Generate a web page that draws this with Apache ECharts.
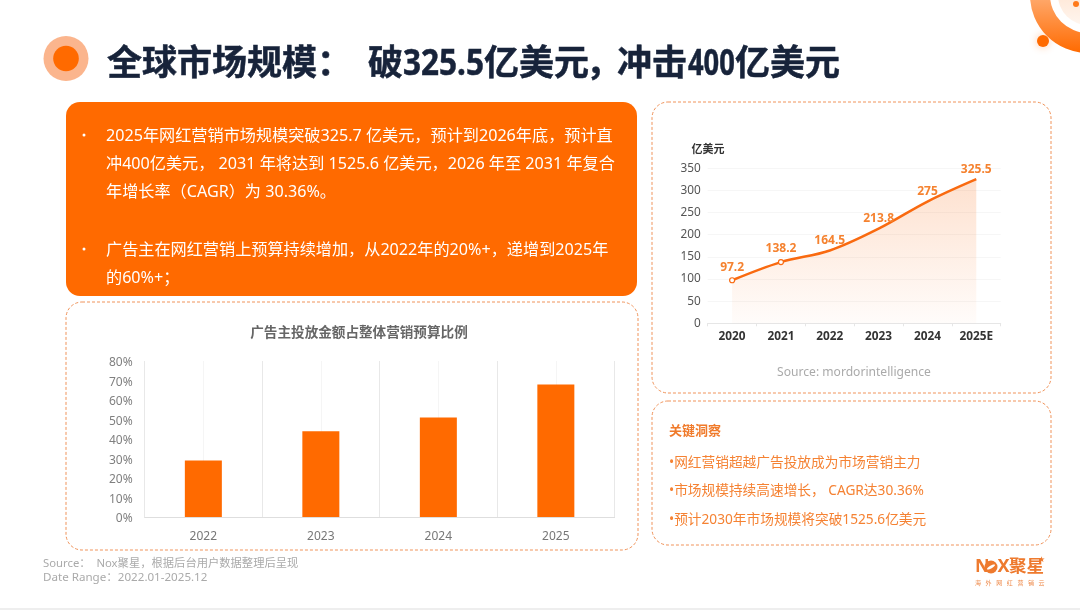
<!DOCTYPE html>
<html><head><meta charset="utf-8">
<style>html,body{margin:0;padding:0;background:#fff}#c{width:1080px;height:610px}</style>
<script src="https://cdn.jsdelivr.net/npm/echarts@6/dist/echarts.min.js"></script>
</head><body><div id="c"></div>
<script>
const FONT = '"Noto Sans","Noto Sans CJK SC",sans-serif';
const ORANGE = '#ff6a00';
const budgetYears = ['2022','2023','2024','2025'];
const budgetShare = [29,44,51,68];
const marketYears = ['2020','2021','2022','2023','2024','2025E'];
const marketValues = [97.2,138.2,164.5,213.8,275,325.5];
const markedPoints = ['2020','2021'];
const titleLeft = '全球市场规模：';
const titleRight = [['破',368,1],['325.5',403,.9],['亿美元',484,1],['，',586,1],['冲击',617,1],['400',688,.78],['亿美元',735,1]];
const bullets = [
 ['2025年网红营销市场规模突破325.7 亿美元，预计到2026年底，预计直',135],
 ['冲400亿美元， 2031 年将达到 1525.6 亿美元，2026 年至 2031 年复合',163],
 ['年增长率（CAGR）为 30.36%。',191],
 ['广告主在网红营销上预算持续增加，从2022年的20%+，递增到2025年',249],
 ['的60%+；',277]
];
const insights = ['•网红营销超越广告投放成为市场营销主力','•市场规模持续高速增长， CAGR达30.36%','•预计2030年市场规模将突破1525.6亿美元'];
const logoTagline = ['海','外','网','红','营','销','云'];

const txt = (x,y,text,size,fill,extra={},sx=1) => ({type:'text',x,y:y+1,scaleX:sx,style:Object.assign({text,fontSize:size,fill,fontFamily:FONT,textVerticalAlign:'middle',textAlign:'left'},extra)});
const card = (x,y,width,height) => ({type:'rect',shape:{x,y,width,height,r:16},style:{fill:'none',stroke:'#f0935a',lineWidth:1,lineDash:[3,2]}});
const heavy = {fontWeight:'bold',stroke:'#17233a',lineWidth:.5};

const graphics = [
 {type:'ring',shape:{cx:1088,cy:-5,r:58,r0:38},style:{fill:new echarts.graphic.LinearGradient(0,0,0,1,[{offset:0,color:'#ffe0c8'},{offset:.45,color:'#ffb27c'},{offset:1,color:'#ff6a00'}])}},
 {type:'circle',shape:{cx:1088,cy:-5,r:30},style:{fill:new echarts.graphic.LinearGradient(0,0,0,1,[{offset:0,color:'#ffd9bf'},{offset:1,color:'#fff6ef'}])}},
 {type:'circle',shape:{cx:1076,cy:4,r:3},style:{fill:'#ff7a1a'}},
 {type:'circle',shape:{cx:1043,cy:41,r:6},style:{fill:'#ff6a00',shadowBlur:8,shadowColor:'rgba(255,130,50,.45)'}},
 {type:'circle',shape:{cx:66,cy:58.5,r:22.5},style:{fill:'#fbb58d'}},
 {type:'circle',shape:{cx:66,cy:58.5,r:12.8},style:{fill:ORANGE}},
 txt(107,64,titleLeft,35,'#17233a',heavy),
 ...titleRight.map(([t,x,s]) => txt(x,64,t,35,'#17233a',heavy,s)),
 {type:'rect',shape:{x:66,y:102,width:571,height:194,r:14},style:{fill:ORANGE}},
 {type:'circle',shape:{cx:84,cy:135,r:1.5},style:{fill:'#fff'}},
 {type:'circle',shape:{cx:84,cy:249,r:1.5},style:{fill:'#fff'}},
 ...bullets.map(([t,y]) => txt(106,y,t,16.15,'#fff')),
 card(66,302,572,248),
 card(652,102,399,291),
 card(652,401,399,144),
 txt(359,332,'广告主投放金额占整体营销预算比例',13.6,'#666',{fontWeight:'bold',textAlign:'center'}),
 txt(708,149,'亿美元',11,'#333',{fontWeight:'bold',textAlign:'center'}),
 txt(854,372,'Source: mordorintelligence',12.1,'#aaa',{textAlign:'center'}),
 txt(669,430,'关键洞察',13,'#f07a2a',{fontWeight:'bold'}),
 ...insights.map((t,i) => txt(669,[462,490,519][i],t,13.7,'#f58233')),
 txt(43,563,'Source：  Nox聚星，根据后台用户数据整理后呈现',11.3,'#aaa'),
 txt(43,577,'Date Range：2022.01-2025.12',11.6,'#aaa'),
 txt(975,566,'N',18,'#ee7a2e',{fontWeight:'bold'}),
 {type:'circle',shape:{cx:991,cy:567,r:6.5},style:{fill:'#ee7a2e'}},
 {type:'ellipse',shape:{cx:991,cy:567,rx:4.5,ry:1.4},rotation:.5,originX:991,originY:567,style:{fill:'#fff'}},
 txt(997.5,566,'X',18,'#ee7a2e',{fontWeight:'bold'}),
 txt(1009,566,'聚星',17.5,'#ee7a2e',{fontWeight:'bold'}),
 txt(1038,559,'★',8,'#ee7a2e',{fontFamily:'"DejaVu Sans"'}),
 ...logoTagline.map((c,i) => txt(975+i*10.6,582.5,c,6,'#ee8a4a')),
 {type:'rect',shape:{x:0,y:608,width:1080,height:2},style:{fill:'#eeeeee'}}
];

const chart = echarts.init(document.getElementById('c'),null,{renderer:'canvas'});
chart.setOption({
 animation:false,
 backgroundColor:'#fff',
 textStyle:{fontFamily:FONT},
 graphic:{elements:graphics},
 grid:[
  {left:144.6,top:361,width:470,height:156,containLabel:false},
  {left:707.7,top:168.3,width:293,height:155,containLabel:false}
 ],
 xAxis:[
  {type:'category',gridIndex:0,data:budgetYears,
   axisLine:{lineStyle:{color:'#dedede'}},axisTick:{show:false},
   splitLine:{show:true,lineStyle:{color:'#e8e8e8'}},
   axisLabel:{color:'#777',fontSize:12,margin:13.5,fontFamily:FONT}},
  {type:'category',gridIndex:1,data:marketYears,
   axisLine:{lineStyle:{color:'#e6e6e6'}},axisTick:{show:true,length:3,lineStyle:{color:'#e6e6e6'}},
   splitLine:{show:false},
   axisLabel:{color:'#333',fontSize:11.8,fontWeight:'bold',margin:7,fontFamily:FONT}}
 ],
 yAxis:[
  {type:'value',gridIndex:0,min:0,max:80,interval:10,
   axisLine:{show:false},axisTick:{show:false},splitLine:{show:false},
   axisLabel:{color:'#808080',fontSize:12,margin:12,formatter:'{a|{value}%}',
    rich:{a:{color:'#808080',fontSize:12,fontFamily:FONT,padding:[4,0,0,0]}},fontFamily:FONT}},
  {type:'value',gridIndex:1,min:0,max:350,interval:50,
   axisLine:{show:false},axisTick:{show:false},splitLine:{show:true,lineStyle:{color:'#f6f6f6'}},
   axisLabel:{color:'#555',fontSize:11.8,margin:7,fontFamily:FONT}}
 ],
 series:[
  {type:'bar',xAxisIndex:0,yAxisIndex:0,data:budgetShare,barWidth:37,itemStyle:{color:ORANGE},
   markLine:{silent:true,z:1,symbol:'none',label:{show:false},lineStyle:{color:'#f5f5f5',width:1,type:'solid'},
    data:budgetYears.map(y=>({xAxis:y}))}},
  {type:'line',xAxisIndex:1,yAxisIndex:1,smooth:.35,
   data:marketValues.map((v,i)=>({value:v,symbol:'circle',symbolSize:markedPoints.includes(marketYears[i])?5:0})),
   showSymbol:true,showAllSymbol:true,
   lineStyle:{color:'#f96a10',width:2.5},
   itemStyle:{color:'#fff',borderColor:'#f96a10',borderWidth:1.2},
   areaStyle:{color:new echarts.graphic.LinearGradient(0,0,0,1,[{offset:0,color:'rgba(249,120,40,.32)'},{offset:1,color:'rgba(249,120,40,.03)'}])},
   label:{show:true,position:'top',distance:4,color:'#f5822f',fontSize:12,fontWeight:'bold',fontFamily:FONT}}
 ]
});
</script></body></html>
